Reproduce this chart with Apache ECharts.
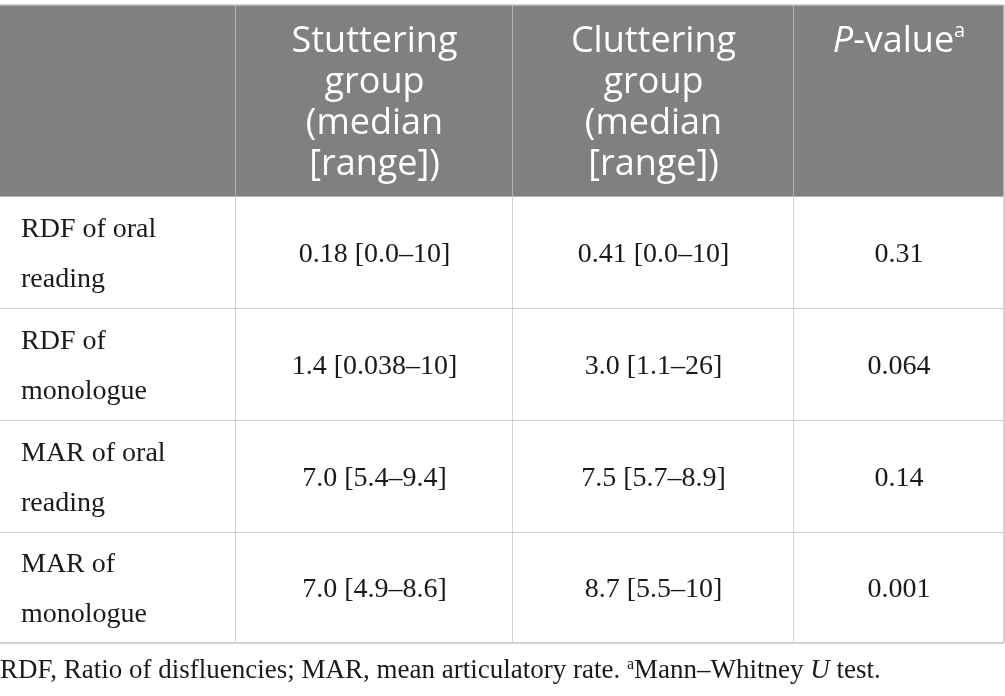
<!DOCTYPE html>
<html>
<head>
<meta charset="utf-8">
<script src="https://cdn.jsdelivr.net/npm/echarts@6/dist/echarts.min.js"></script>
<style>
  html, body { margin: 0; padding: 0; background: #fff; }
  #main { width: 1005px; height: 696px; }
</style>
</head>
<body>
<div id="main"></div>
<script>
// table content
let headers = ['', 'Stuttering\ngroup\n(median\n[range])', 'Cluttering\ngroup\n(median\n[range])', '{it|P}-value{sup|a}'];
let measures = ['RDF of oral\nreading', 'RDF of\nmonologue', 'MAR of oral\nreading', 'MAR of\nmonologue'];
let stutteringMedian = ['0.18', '1.4', '7.0', '7.0'];
let stutteringRange = ['0.0–10', '0.038–10', '5.4–9.4', '4.9–8.6'];
let clutteringMedian = ['0.41', '3.0', '7.5', '8.7'];
let clutteringRange = ['0.0–10', '1.1–26', '5.7–8.9', '5.5–10'];
let pValues = ['0.31', '0.064', '0.14', '0.001'];
let footnote = 'RDF, Ratio of disfluencies; MAR, mean articulatory rate. {sup|a}Mann–Whitney {it|U} test.';

// layout of the table (pixels)
let colEdges = [0, 236, 513, 794, 1004];
let rowEdges = [5, 197, 309, 421, 533, 643];

let chartDom = document.getElementById('main');
let myChart = echarts.init(chartDom);

function cellText(col, row) {
  if (row === 0) return headers[col];
  let i = row - 1;
  if (col === 0) return measures[i];
  if (col === 1) return stutteringMedian[i] + ' [' + stutteringRange[i] + ']';
  if (col === 2) return clutteringMedian[i] + ' [' + clutteringRange[i] + ']';
  return pValues[i];
}

let cells = [];
for (let r = 0; r <= measures.length; r++) {
  for (let c = 0; c < headers.length; c++) {
    cells.push([c, r]);
  }
}

let lineColor = '#c3c3c3';

function renderCell(params, api) {
  let c = api.value(0);
  let r = api.value(1);
  let tl = api.coord([colEdges[c], rowEdges[r]]);
  let br = api.coord([colEdges[c + 1], rowEdges[r + 1]]);
  let x0 = tl[0], y0 = tl[1], x1 = br[0], y1 = br[1];
  let header = r === 0;
  let children = [
    {
      type: 'rect',
      shape: { x: x0, y: y0, width: x1 - x0, height: y1 - y0 },
      style: { fill: header ? '#808080' : '#ffffff' }
    },
    {
      type: 'line',
      shape: { x1: x1, y1: y0, x2: x1, y2: y1 },
      style: { stroke: lineColor, lineWidth: 1.5 }
    },
    {
      type: 'line',
      shape: { x1: x0, y1: y1, x2: x1, y2: y1 },
      style: { stroke: lineColor, lineWidth: 1.5 }
    }
  ];
  if (header) {
    children.push({
      type: 'line',
      shape: { x1: x0, y1: y0, x2: x1, y2: y0 },
      style: { stroke: lineColor, lineWidth: 1.5 }
    });
    children.push({
      type: 'text',
      style: {
        text: cellText(c, r),
        x: (x0 + x1) / 2,
        y: y0 + 16,
        fill: '#ffffff',
        fontFamily: 'Open Sans',
        fontSize: 36,
        lineHeight: 41,
        align: 'center',
        verticalAlign: 'top',
        rich: {
          it: { fontFamily: 'Open Sans', fontSize: 36, fontStyle: 'italic', fill: '#ffffff', lineHeight: 41 },
          sup: { fontFamily: 'Open Sans', fontSize: 20, fill: '#ffffff', verticalAlign: 'top', lineHeight: 41, padding: [0, 0, 14, 0] }
        }
      }
    });
  } else {
    children.push({
      type: 'text',
      style: {
        text: cellText(c, r),
        x: c === 0 ? x0 + 21 : (x0 + x1) / 2,
        y: (y0 + y1) / 2 + 2,
        fill: '#1a1a1a',
        fontFamily: 'Liberation Serif',
        fontSize: 28,
        lineHeight: 50,
        align: c === 0 ? 'left' : 'center',
        verticalAlign: 'middle'
      }
    });
  }
  return { type: 'group', children: children };
}

let option = {
  animation: false,
  grid: { left: 0, right: 0, top: 0, bottom: 0 },
  xAxis: { type: 'value', min: 0, max: 1005, show: false },
  yAxis: { type: 'value', min: 0, max: 696, inverse: true, show: false },
  graphic: [
    {
      type: 'text',
      left: 0,
      top: 657,
      style: {
        text: footnote,
        fill: '#1a1a1a',
        fontFamily: 'Liberation Serif',
        fontSize: 27,
        rich: {
          it: { fontFamily: 'Liberation Serif', fontSize: 27, fontStyle: 'italic', fill: '#1a1a1a' },
          sup: { fontFamily: 'Liberation Serif', fontSize: 16, fill: '#1a1a1a', padding: [0, 0, 11, 0] }
        }
      }
    }
  ],
  series: [
    {
      type: 'custom',
      renderItem: renderCell,
      data: cells,
      silent: true
    }
  ]
};

myChart.setOption(option);
</script>
</body>
</html>
